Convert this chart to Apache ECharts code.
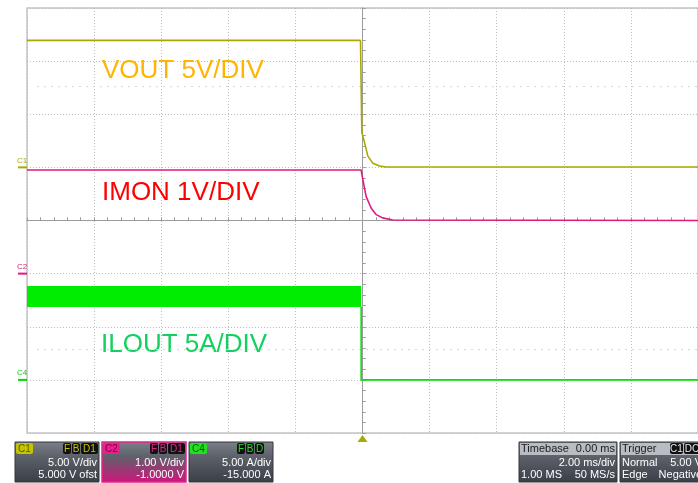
<!DOCTYPE html>
<html>
<head>
<meta charset="utf-8">
<script src="https://cdn.jsdelivr.net/npm/echarts@6/dist/echarts.min.js"></script>
<style>
html, body { margin: 0; padding: 0; background: #fff; }
#scope { width: 698px; height: 483px; }
</style>
</head>
<body>
<div id="scope"></div>
<script>
// channel settings
const ch1 = { scale: 5, ofst: 5 };    // V/div, V
const ch2 = { scale: 1, ofst: -1 };   // V/div, V
const ch4 = { scale: 5, ofst: -15 };  // A/div, A

// C1 VOUT (ms, V)
const voutT = [-10, -0.06, -0.02, 0.06, 0.16, 0.31, 0.51, 0.71, 10];
const voutV = [11.95, 11.95, 3.3, 2.35, 1.06, 0.38, 0.12, 0.03, 0.03];

// C2 IMON (ms, V)
const imonT = [-10, -0.04, 0.01, 0.11, 0.26, 0.41, 0.60, 0.90, 10];
const imonV = [1.95, 1.95, 1.77, 1.45, 1.23, 1.11, 1.05, 1.01, 1.0];

// C4 ILOUT (ms, A): ripple band before the edge, then the step
const bandT = [-10, -0.04];
const bandHi = [8.83, 8.83];
const bandLo = [6.85, 6.85];
const iloutT = [-0.04, -0.04, 10];
const iloutA = [6.85, 0, 0];

const toDiv = (ch, v) => (v + ch.ofst) / ch.scale;
const zip = (ch, t, v) => t.map((x, i) => [x, toDiv(ch, v[i])]);

const chart = echarts.init(document.getElementById('scope'));

const axisBase = {
  type: 'value',
  axisLabel: { show: false },
  axisLine: { show: true, onZero: true, lineStyle: { color: '#9c9c9c', width: 1 } },
  minorTick: { show: true, splitNumber: 5, length: 3, lineStyle: { color: '#9c9c9c' } },
  axisTick: { show: true, length: 3, lineStyle: { color: '#9c9c9c' } }
};
const grid = { color: '#bdbdbd', type: [1, 2], width: 1 };

const option = {
  animation: false,
  grid: { left: 27, top: 8, width: 672, height: 425, show: true, borderColor: '#c4c4c4', borderWidth: 1.5 },
  xAxis: [
    Object.assign({}, axisBase, { min: -10, max: 10, interval: 2,
      axisTick: Object.assign({}, axisBase.axisTick, { inside: true }),
      splitLine: { show: true, lineStyle: grid } }),
    Object.assign({}, axisBase, { min: -10, max: 10, interval: 2, splitLine: { show: false } })
  ],
  yAxis: [
    Object.assign({}, axisBase, { min: -4, max: 4, interval: 1,
      axisTick: Object.assign({}, axisBase.axisTick, { inside: true }),
      splitLine: { show: true, lineStyle: grid } }),
    Object.assign({}, axisBase, { min: -4, max: 4, interval: 1, splitLine: { show: false } })
  ],
  series: [
    {
      name: 'VOUT', type: 'line', showSymbol: false, z: 5,
      lineStyle: { color: '#a9a900', width: 1.6 },
      data: zip(ch1, voutT, voutV)
    },
    {
      name: 'IMON', type: 'line', showSymbol: false, z: 5,
      lineStyle: { color: '#e2187f', width: 1.6 },
      data: zip(ch2, imonT, imonV)
    },
    {
      name: 'ILOUT ripple', type: 'custom', z: 4,
      data: [[bandT[0], toDiv(ch4, bandHi[0])]],
      renderItem: (params, api) => {
        const pts = [];
        bandT.forEach((t, i) => pts.push(api.coord([t, toDiv(ch4, bandHi[i])])));
        for (let i = bandT.length - 1; i >= 0; i--) pts.push(api.coord([bandT[i], toDiv(ch4, bandLo[i])]));
        return { type: 'polygon', shape: { points: pts }, style: { fill: '#00ec00' } };
      }
    },
    {
      name: 'ILOUT', type: 'line', showSymbol: false, z: 5,
      lineStyle: { color: '#00e600', width: 1.6 },
      data: zip(ch4, iloutT, iloutA)
    }
  ]
};
chart.setOption(option);

// overlay: trace labels, ground markers, descriptor boxes
const px = (t, d) => chart.convertToPixel({ gridIndex: 0 }, [t, d]);
const g = [];

// faint half-division dot rows
[2.52, -2.43].forEach(d => {
  const a = px(-10, d), b = px(10, d);
  g.push({ type: 'line', z: 1, shape: { x1: a[0] + 10, y1: a[1], x2: b[0], y2: b[1] },
    style: { stroke: '#d4d4d4', lineWidth: 1, lineDash: [2, 5] } });
});

const label = (txt, x, y, color) => g.push({ type: 'text', x: x, y: y,
  style: { text: txt, fill: color, font: '26px "Liberation Sans", Arial, sans-serif', textVerticalAlign: 'middle' } });
label('VOUT 5V/DIV', 102, 71, '#ffb400');
label('IMON 1V/DIV', 102, 193, '#ff0000');
label('ILOUT 5A/DIV', 101, 345, '#14d060');

[['C1', ch1, '#a9a900'], ['C2', ch2, '#e2187f'], ['C4', ch4, '#00d800']].forEach(([n, ch, c]) => {
  const p = px(-10, toDiv(ch, 0));
  g.push({ type: 'line', shape: { x1: p[0] - 9, y1: p[1], x2: p[0], y2: p[1] }, style: { stroke: c, lineWidth: 2 } });
  g.push({ type: 'text', x: p[0] - 10, y: p[1] - 7,
    style: { text: n, fill: c, font: '8px "Liberation Sans", Arial, sans-serif', textVerticalAlign: 'middle' } });
});

const tp = px(0, -4);
g.push({ type: 'polygon', shape: { points: [[tp[0] - 5, tp[1] + 9], [tp[0] + 5, tp[1] + 9], [tp[0], tp[1] + 2]] },
  style: { fill: '#a9a900' } });

const F = '11px "Liberation Sans", Arial, sans-serif';
const txt = (s, x, y, color, align) => g.push({ type: 'text', x: x, y: y,
  style: { text: s, fill: color, font: F, textAlign: align || 'left', textVerticalAlign: 'middle' } });
const boxFill = (bottom) => new echarts.graphic.LinearGradient(0, 0, 0, 1, [
  { offset: 0, color: '#7b8089' }, { offset: 0.35, color: '#5d626b' }, { offset: 1, color: bottom || '#3a3e46' }]);
const badge = (s, x, y, w, bg, fg) => {
  g.push({ type: 'rect', shape: { x: x, y: y, width: w, height: 11, r: 2 }, style: { fill: bg } });
  g.push({ type: 'text', x: x + w / 2, y: y + 6,
    style: { text: s, fill: fg, font: '10px "Liberation Sans", Arial, sans-serif', textAlign: 'center', textVerticalAlign: 'middle' } });
};

const chBox = (x, name, c, fg, lines, bottom, border) => {
  g.push({ type: 'rect', shape: { x: x, y: 442, width: 84, height: 40 },
    style: { fill: boxFill(bottom), stroke: border || '#34373d', lineWidth: border ? 1.5 : 1 } });
  badge(name, x + 1, 443, 17, c, fg);
  badge('F', x + 48, 443, 8, '#111', c);
  badge('B', x + 57, 443, 8, '#111', c);
  badge(name === 'C4' ? 'D' : 'D1', x + 66, 443, name === 'C4' ? 9 : 17, '#111', c);
  txt(lines[0], x + 82, 463, '#fff', 'right');
  txt(lines[1], x + 82, 475, '#fff', 'right');
};
chBox(15, 'C1', '#c4c400', '#5a5a00', ['5.00 V/div', '5.000 V ofst']);
chBox(102, 'C2', '#e8208c', '#7a0040', ['1.00 V/div', '-1.0000 V'], '#d0157c', '#e8208c');
chBox(189, 'C4', '#22e022', '#0a5a0a', ['5.00 A/div', '-15.000 A']);

const infoBox = (x, w, head, rows) => {
  g.push({ type: 'rect', shape: { x: x, y: 442, width: w, height: 40 }, style: { fill: boxFill(), stroke: '#34373d' } });
  g.push({ type: 'rect', shape: { x: x + 1, y: 443, width: w - 2, height: 12 }, style: { fill: '#b8bcc3' } });
  txt(head[0], x + 2, 449, '#1b1b1b');
  if (head[1]) txt(head[1], x + w - 2, 449, '#1b1b1b', 'right');
  rows.forEach((r, i) => {
    if (r[0]) txt(r[0], x + 2, 463 + i * 12, '#fff');
    if (r[1]) txt(r[1], x + w - 2, 463 + i * 12, '#fff', 'right');
  });
};
infoBox(519, 98, ['Timebase', '0.00 ms'], [['', '2.00 ms/div'], ['1.00 MS', '50 MS/s']]);
infoBox(620, 84, ['Trigger'], [['Normal', '5.00 V'], ['Edge', 'Negative']]);
badge('C1', 670, 443, 13, '#111', '#e8e8e8');
badge('DC', 684, 443, 16, '#111', '#e8e8e8');

chart.setOption({ graphic: g });
</script>
</body>
</html>
